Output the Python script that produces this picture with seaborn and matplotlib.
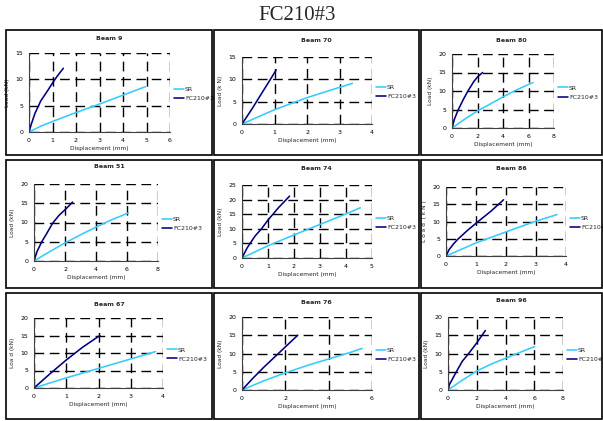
import matplotlib
matplotlib.use("Agg")
import matplotlib.pyplot as plt
from matplotlib.patches import Rectangle
import numpy as np
import pandas as pd
import seaborn as sns

# ---- data: load-displacement curves for each beam ----
beams = ["Beam 9", "Beam 70", "Beam 80",
         "Beam 51", "Beam 74", "Beam 86",
         "Beam 67", "Beam 76", "Beam 96"]
series_names = ["SR", "FC210#3"]

x_max = [6, 4, 8, 8, 5, 4, 4, 6, 8]
x_step = [1, 1, 2, 2, 1, 1, 1, 2, 2]
y_max = [15, 15, 20, 20, 25, 20, 20, 20, 20]
y_step = [5, 5, 5, 5, 5, 5, 5, 5, 5]
y_labels = ["Load (kN)", "Load (k N)", "Load (kN)",
            "Load (kN)", "Load (kN)", "L o a d  ( k N )",
            "Loa d (kN)", "Load (kN)", "Load (kN)"]

beam9_sr_disp = [0, 0.5, 1, 2, 3, 4, 4.95]
beam9_sr_load = [0, 1.1, 2.0, 3.7, 5.3, 7.0, 8.6]
beam9_fc_disp = [0, 0.1, 0.25, 0.5, 0.8, 1.0, 1.2, 1.46]
beam9_fc_load = [0, 1.5, 3.5, 5.9, 7.9, 9.3, 10.6, 12.1]

beam70_sr_disp = [0, 1, 2, 3, 3.4]
beam70_sr_load = [0, 3.2, 5.9, 8.2, 9.1]
beam70_fc_disp = [0, 0.3, 0.6, 0.9, 1.05]
beam70_fc_load = [0, 3.3, 6.8, 10.3, 12.1]

beam80_sr_disp = [0, 1, 2, 3, 4, 5, 6.35]
beam80_sr_load = [0, 2.4, 4.6, 6.5, 8.4, 10.2, 12.3]
beam80_fc_disp = [0, 0.2, 0.5, 0.9, 1.25, 1.7, 2.0, 2.4]
beam80_fc_load = [0, 2.5, 5.0, 7.8, 10.0, 12.5, 13.8, 15.0]

beam51_sr_disp = [0, 1, 2, 3, 4, 5, 6.1]
beam51_sr_load = [0, 2.4, 4.7, 6.8, 8.8, 10.7, 12.5]
beam51_fc_disp = [0, 0.2, 0.5, 0.8, 1.2, 1.6, 2.0, 2.49]
beam51_fc_load = [0, 2.5, 5.0, 7.0, 9.8, 11.8, 13.3, 15.3]

beam74_sr_disp = [0, 1, 2, 3, 4, 4.55]
beam74_sr_load = [0, 4.2, 7.9, 11.5, 15.1, 17.2]
beam74_fc_disp = [0, 0.2, 0.5, 0.75, 1.0, 1.4, 1.83]
beam74_fc_load = [0, 3.5, 7.5, 10.0, 13.0, 17.2, 21.2]

beam86_sr_disp = [0, 1, 2, 3, 3.7]
beam86_sr_load = [0, 3.8, 7.0, 10.1, 12.0]
beam86_fc_disp = [0, 0.1, 0.25, 0.4, 0.7, 1.0, 1.5, 1.92]
beam86_fc_load = [0, 1.8, 3.5, 4.9, 7.3, 9.5, 13.0, 16.3]

beam67_sr_disp = [0, 1, 2, 3, 3.77]
beam67_sr_load = [0, 2.9, 5.6, 8.3, 10.4]
beam67_fc_disp = [0, 0.5, 1.0, 1.5, 2.04]
beam67_fc_load = [0, 4.1, 8.0, 11.6, 15.0]

beam76_sr_disp = [0, 1, 2, 3, 4, 5, 5.55]
beam76_sr_load = [0, 2.5, 4.7, 6.7, 8.5, 10.3, 11.4]
beam76_fc_disp = [0, 0.5, 1.0, 1.5, 2.0, 2.57]
beam76_fc_load = [0, 3.2, 6.2, 9.0, 11.8, 15.0]

beam96_sr_disp = [0, 1, 2, 3, 4, 5, 6.03]
beam96_sr_load = [0, 2.7, 5.2, 7.1, 8.7, 10.3, 11.9]
beam96_fc_disp = [0, 0.1, 0.58, 1.0, 1.44, 2.0, 2.6]
beam96_fc_load = [0, 1.5, 5.0, 7.9, 10.0, 12.9, 16.3]

curves = [
    (beam9_sr_disp, beam9_sr_load, beam9_fc_disp, beam9_fc_load),
    (beam70_sr_disp, beam70_sr_load, beam70_fc_disp, beam70_fc_load),
    (beam80_sr_disp, beam80_sr_load, beam80_fc_disp, beam80_fc_load),
    (beam51_sr_disp, beam51_sr_load, beam51_fc_disp, beam51_fc_load),
    (beam74_sr_disp, beam74_sr_load, beam74_fc_disp, beam74_fc_load),
    (beam86_sr_disp, beam86_sr_load, beam86_fc_disp, beam86_fc_load),
    (beam67_sr_disp, beam67_sr_load, beam67_fc_disp, beam67_fc_load),
    (beam76_sr_disp, beam76_sr_load, beam76_fc_disp, beam76_fc_load),
    (beam96_sr_disp, beam96_sr_load, beam96_fc_disp, beam96_fc_load),
]

# ---- layout (pixels on a 603 x 421 canvas) ----
W, H = 603, 421
axes_px = [  # left, right, top, bottom of each plot area
    (29, 170, 53, 132), (242, 372, 57, 124), (452, 554, 54, 128),
    (34, 158, 184, 261), (242, 372, 185, 258), (446, 566, 187, 256),
    (34, 163, 318, 388), (242, 372, 317, 390), (448, 563, 317, 390),
]
box_cols = [(6, 212), (214, 419), (421, 602)]
box_rows = [(30, 155), (160, 288), (293, 419)]
title_y = [38, 40, 40, 167, 169, 168, 305, 302, 301]

palette = {"SR": "#33CCFF", "FC210#3": "#000080"}

sns.set_style("white")
plt.rcParams["font.family"] = ["DejaVu Sans"]
plt.rcParams["lines.scale_dashes"] = False

fig = plt.figure(figsize=(W / 100, H / 100), dpi=100)
fig.patch.set_facecolor("white")

fig.text(297 / W, 1 - 15 / H, "FC210#3", ha="center", va="center",
         fontsize=15, family="Liberation Serif")

for i, beam in enumerate(beams):
    r, c = divmod(i, 3)
    bl, br = box_cols[c]
    bt, bb = box_rows[r]
    fig.add_artist(Rectangle((bl / W, 1 - bb / H), (br - bl) / W, (bb - bt) / H,
                             transform=fig.transFigure, fill=False,
                             edgecolor="black", linewidth=1.2))
    fig.text((bl + br) / 2 / W, 1 - title_y[i] / H, beam, ha="center",
             va="center", fontsize=4.5, fontweight="bold")

    l, rt, t, b = axes_px[i]
    ax = fig.add_axes([l / W, 1 - b / H, (rt - l) / W, (b - t) / H])

    sr_x, sr_y, fc_x, fc_y = curves[i]
    df = pd.DataFrame({
        "Displacement": list(sr_x) + list(fc_x),
        "Load": list(sr_y) + list(fc_y),
        "Series": ["SR"] * len(sr_x) + ["FC210#3"] * len(fc_x),
    })
    sns.lineplot(data=df, x="Displacement", y="Load", hue="Series",
                 hue_order=series_names, palette=palette, estimator=None,
                 sort=False, linewidth=1.15, ax=ax, zorder=3)

    ax.set_xlim(0, x_max[i])
    ax.set_ylim(0, y_max[i])
    ax.set_xticks(np.arange(0, x_max[i] + 0.01, x_step[i]))
    ax.set_yticks(np.arange(0, y_max[i] + 0.01, y_step[i]))
    ax.set_axisbelow(True)
    ax.grid(True, color="black", linewidth=1.0, linestyle=(0, (7, 4)))
    for side in ("top", "right"):
        ax.spines[side].set_visible(False)
    for side in ("left", "bottom"):
        ax.spines[side].set_color("#404040")
        ax.spines[side].set_linewidth(0.8)
        ax.spines[side].set_zorder(4)
    ax.tick_params(axis="both", direction="out", length=2.5, width=0.6,
                   labelsize=4.5, pad=1.5, colors="#404040",
                   labelcolor="black")
    ax.set_xlabel("Displacement (mm)", fontsize=4.2, labelpad=2.5)
    ax.set_ylabel(y_labels[i], fontsize=4.2, labelpad=4)
    ax.set_facecolor("white")

    handles, labels = ax.get_legend_handles_labels()
    ax.legend(handles, labels, loc="center left", bbox_to_anchor=(1.0, 0.48),
              frameon=False, fontsize=4.5, handlelength=1.5,
              handletextpad=0.2, labelspacing=0.6, borderaxespad=0.3)

fig.savefig("out.png", dpi=100, facecolor="white")
